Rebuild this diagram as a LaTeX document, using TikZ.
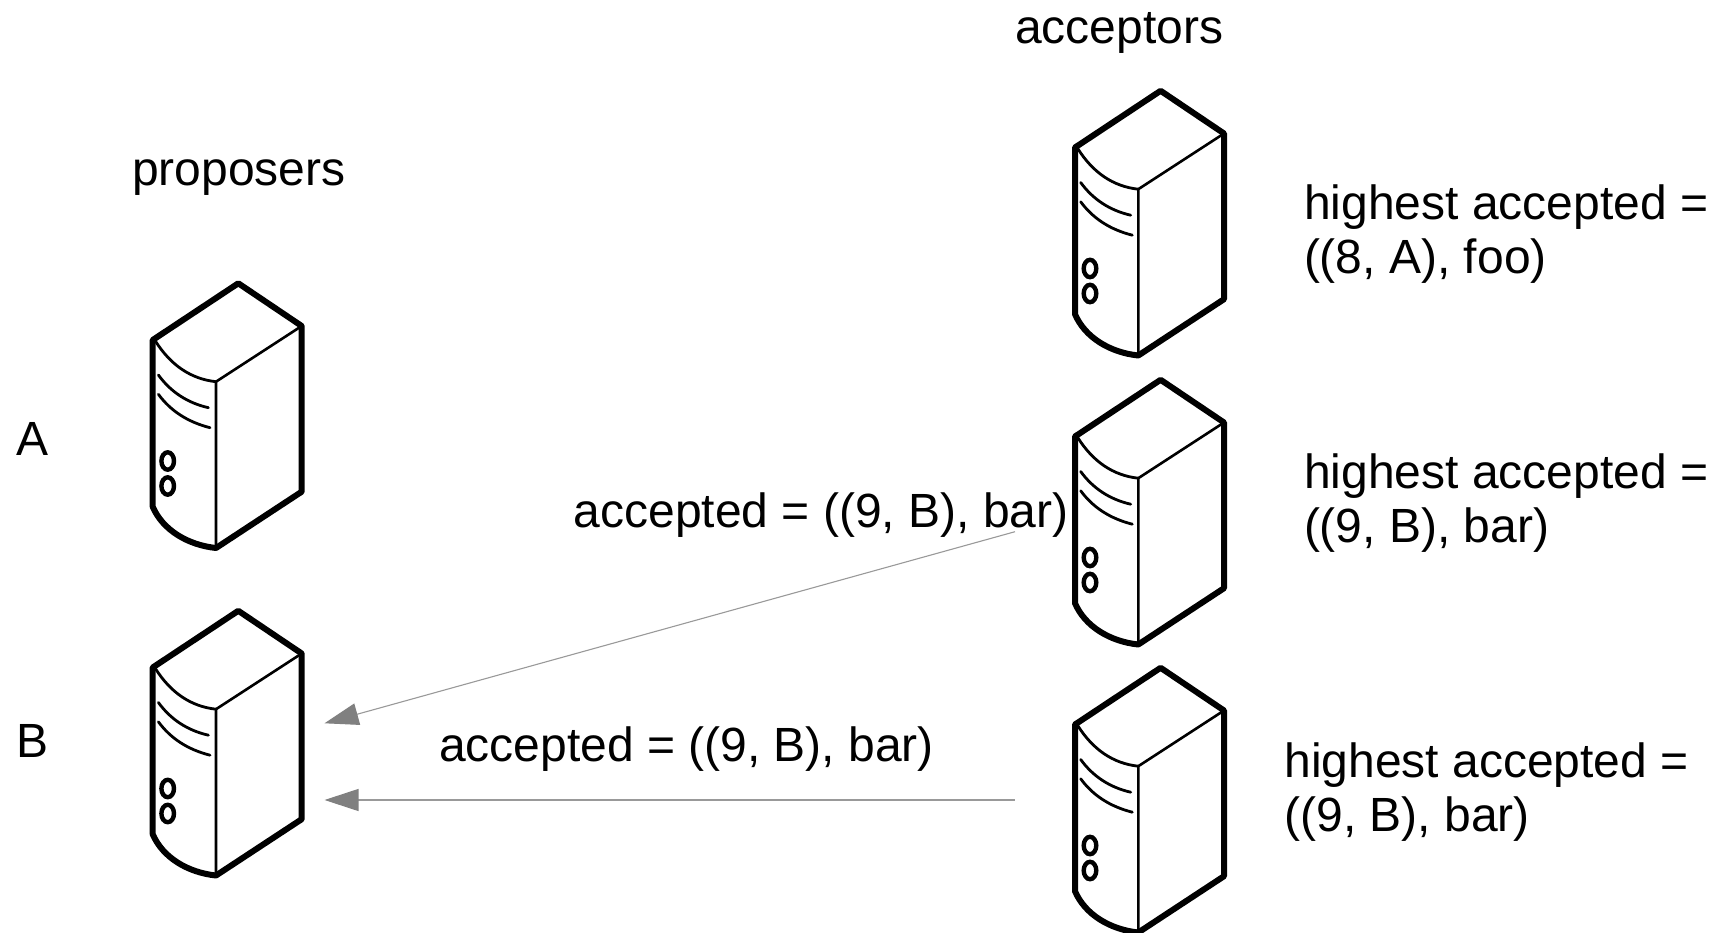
\documentclass[tikz,border=0pt]{standalone}
\usepackage{fontspec}
\setmainfont{Liberation Sans}
\usetikzlibrary{arrows.meta}
\definecolor{tipgrey}{HTML}{808080}
\definecolor{linegrey}{HTML}{999999}
\tikzset{
  lbl/.style={anchor=base west,inner sep=0pt,outer sep=0pt,font=\fontsize{48}{54}\selectfont,text=black},
  msg/.style={draw=linegrey,line width=1.1pt,{Triangle[length=34pt,width=22pt,fill=tipgrey,color=tipgrey]}-{}},
  server/.pic={
    \draw[line width=2.6pt,line join=round]
      (63.3,41.7) -- (149,-14)
      (63.3,41.7) -- (63.3,208);
    \draw[line width=2.8pt,line cap=round]
      (3,1.5) .. controls (18,25) and (38,39) .. (63.3,41.7)
      (5.7,35) .. controls (18,52) and (35,63) .. (55.7,67.7)
      (5.7,54.3) .. controls (18,71) and (35,82) .. (57.3,87.7);
    \draw[line width=4.4pt] (15,121) ellipse [x radius=6.3,y radius=8.7]
      (15,146) ellipse [x radius=6.3,y radius=8.7];
    \draw[line width=6pt,line join=round]
      (0,0) -- (85.6,-56.7) -- (149,-14) -- (149,151.7) -- (63.3,208)
      .. controls (35,205) and (10,190) .. (0,166.7) -- cycle;
  }
}
\begin{document}
\begin{tikzpicture}[x=1pt,y=-1pt]
\useasboundingbox (0,0) rectangle (1730,933);
\pic (pa) at (152.7,340) {server};
\pic (pb) at (152.7,667.5) {server};
\pic (aa) at (1075,147.5) {server};
\pic (ab) at (1075,436.5) {server};
\pic (ac) at (1075,724.5) {server};

\node[lbl] (tacc) at (1015,44) {acceptors};
\node[lbl] (tpro) at (132,186) {proposers};
\node[lbl] (tA) at (16.5,455) {A};
\node[lbl] (tB) at (16.5,757) {B};
\node[lbl] (h1a) at (1304,220) {highest accepted =};
\node[lbl] (h1b) at (1304,274) {((8, A), foo)};
\node[lbl] (h2a) at (1304,488) {highest accepted =};
\node[lbl] (h2b) at (1304,542) {((9, B), bar)};
\node[lbl] (h3a) at (1284.5,777) {highest accepted =};
\node[lbl] (h3b) at (1284.5,831) {((9, B), bar)};
\node[lbl] (m1) at (573.7,527.4) {accepted = ((9, B), bar)};
\node[lbl] (m2) at (439,761) {accepted = ((9, B), bar)};

\coordinate (s1) at (1015,531.7);
\coordinate (e1) at (324.5,723.3);
\coordinate (s2) at (1015,800);
\coordinate (e2) at (324.5,800);
\draw[msg] (e1) -- (s1);
\draw[msg] (e2) -- (s2);
\end{tikzpicture}
\end{document}
